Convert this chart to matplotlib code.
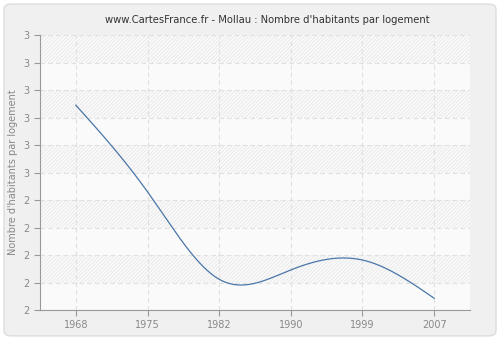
import numpy as np
import matplotlib
matplotlib.use("Agg")
import matplotlib.pyplot as plt
from matplotlib.patches import FancyBboxPatch

years = ["1968", "1975", "1982", "1990", "1999", "2007"]
values = [2.745, 2.430, 2.112, 2.146, 2.182, 2.043]
ytick_vals = [2.0, 2.1, 2.2, 2.3, 2.4, 2.5, 2.6, 2.7, 2.8, 2.9, 3.0]
ytick_labels = ["2", "2", "2", "2", "2", "3", "3", "3", "3", "3", "3"]


def natural_spline(x, y, n=300):
  # plain natural cubic spline, just for the smooth line
  x = np.asarray(x, float)
  y = np.asarray(y, float)
  k = len(x)
  h = np.diff(x)
  A = np.zeros((k, k))
  b = np.zeros(k)
  A[0, 0] = A[-1, -1] = 1
  for i in range(1, k - 1):
    A[i, i - 1] = h[i - 1]
    A[i, i] = 2 * (h[i - 1] + h[i])
    A[i, i + 1] = h[i]
    b[i] = 3 * ((y[i + 1] - y[i]) / h[i] - (y[i] - y[i - 1]) / h[i - 1])
  c = np.linalg.solve(A, b)
  xs = np.linspace(x[0], x[-1], n)
  ys = np.empty_like(xs)
  for j, xv in enumerate(xs):
    i = min(np.searchsorted(x, xv, side="right") - 1, k - 2)
    dx = xv - x[i]
    bi = (y[i + 1] - y[i]) / h[i] - h[i] * (2 * c[i] + c[i + 1]) / 3
    di = (c[i + 1] - c[i]) / (3 * h[i])
    ys[j] = y[i] + bi * dx + c[i] * dx ** 2 + di * dx ** 3
  return xs, ys


plt.rcParams['hatch.linewidth'] = 0.5

fig = plt.figure(figsize=(5, 3.4), dpi=100)
fig.patch.set_facecolor("white")
frame = FancyBboxPatch((0.008, 0.012), 0.984, 0.976,
                       boxstyle="round,pad=0,rounding_size=0.015",
                       transform=fig.transFigure, facecolor="#f0f0f0",
                       edgecolor="#dddddd", linewidth=1, zorder=-10)
fig.patches.append(frame)

ax = fig.add_axes([0.08, 0.088, 0.86, 0.809])
ax.set_zorder(1)
ax.set_facecolor("#fafafa")

idx = np.arange(len(years))
ax.set_xlim(-0.5, len(years) - 0.5)
ax.set_ylim(2.0, 3.0)

# hatched background bands (every other row)
for i in range(1, 10, 2):
  ax.axhspan(ytick_vals[i], ytick_vals[i + 1],
             facecolor="none", edgecolor="#e4e4e4", hatch="/////////", linewidth=0, zorder=0)

ax.grid(True, color="#e0e0e0", linestyle=(0, (4, 3)), linewidth=0.8)
ax.set_axisbelow(True)

xs, ys = natural_spline(idx, values)
ax.plot(xs, ys, color="#4a76a8", linewidth=0.9, zorder=3)

ax.set_xticks(idx)
ax.set_xticklabels(years)
ax.set_yticks(ytick_vals)
ax.set_yticklabels(ytick_labels)
ax.tick_params(colors="#999999", labelcolor="#888888", labelsize=7, length=4, width=0.8)

for s in ["top", "right"]:
  ax.spines[s].set_visible(False)
for s in ["left", "bottom"]:
  ax.spines[s].set_color("#999999")

ax.set_ylabel("Nombre d'habitants par logement", color="#888888", fontsize=7)
ax.set_title("www.CartesFrance.fr - Mollau : Nombre d'habitants par logement",
             color="#333333", fontsize=7.2, pad=9, x=0.528)

fig.savefig("out.png", dpi=100, facecolor=fig.get_facecolor())
